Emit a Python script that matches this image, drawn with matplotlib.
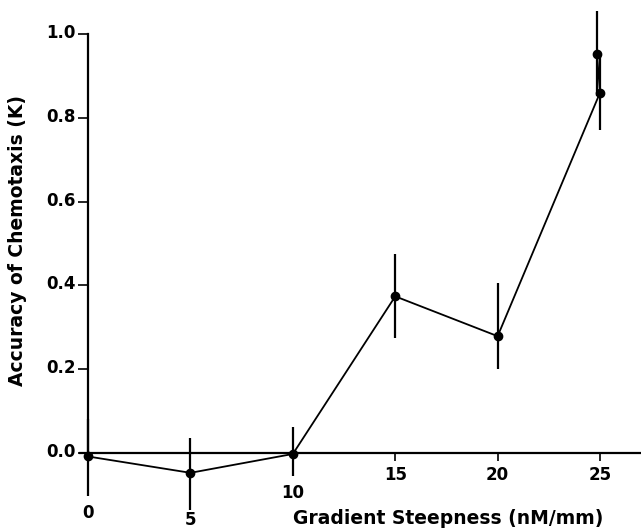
import matplotlib.pyplot as plt
import matplotlib.transforms as mtransforms

# gradient steepness (nM/mm) and accuracy of chemotaxis K
steepness = [0, 5, 10, 15, 20, 25, 24.85]
accuracy = [-0.008, -0.047, -0.002, 0.374, 0.279, 0.860, 0.952]
err_low = [0.094, 0.088, 0.053, 0.10, 0.079, 0.089, 0.10]
err_high = [0.09, 0.083, 0.064, 0.10, 0.126, 0.09, 0.103]

x_ticks = [0, 5, 10, 15, 20, 25]
x_tick_labels = ['0', '5', '10', '15', '20', '25']
y_ticks = [0.0, 0.2, 0.4, 0.6, 0.8, 1.0]
y_tick_labels = ['0.0', '0.2', '0.4', '0.6', '0.8', '1.0']

fig = plt.figure(figsize=(6.41, 5.29), dpi=100)
ax = fig.add_axes([0, 0, 1, 1])
ax.patch.set_alpha(0)

ax.plot(steepness, accuracy, color='black', lw=1.3, zorder=3)
ax.errorbar(steepness, accuracy, yerr=[err_low, err_high], fmt='o',
            color='black', ms=6, elinewidth=1.6, capsize=0, zorder=4)

ax.set_xlim(-4.3, 27.0)
ax.set_ylim(-0.181, 1.081)

for side in ['top', 'right']:
    ax.spines[side].set_visible(False)
ax.spines['left'].set_position(('data', 0))
ax.spines['bottom'].set_position(('data', 0))
ax.spines['left'].set_bounds(0, 1.0)
ax.spines['bottom'].set_bounds(-0.4, 27)
ax.spines['left'].set_linewidth(1.6)
ax.spines['bottom'].set_linewidth(1.6)

ax.set_xticks(x_ticks, x_tick_labels)
ax.set_yticks(y_ticks, y_tick_labels)
ax.tick_params(axis='x', direction='out', length=6, width=1.2, pad=3,
               labelsize=12)
ax.tick_params(axis='y', direction='out', length=7, width=1.2, pad=2,
               labelsize=12)
for lab in ax.get_xticklabels() + ax.get_yticklabels():
    lab.set_fontweight('bold')

# first tick labels sit lower, clear of the error bars
drops = {'0': 38, '5': 45, '10': 18}
for lab in ax.get_xticklabels():
    d = drops.get(lab.get_text(), 0)
    if d:
        off = mtransforms.ScaledTranslation(0, -d / 100, fig.dpi_scale_trans)
        lab.set_transform(lab.get_transform() + off)
for lab in ax.get_yticklabels():
    off = mtransforms.ScaledTranslation(0, 3 / 100, fig.dpi_scale_trans)
    lab.set_transform(lab.get_transform() + off)

ax.set_xlabel('Gradient Steepness (nM/mm)', fontsize=13.5, fontweight='bold',
              va='center')
ax.xaxis.set_label_coords(448 / 641, 1 - 518 / 529)
ax.set_ylabel('Accuracy of Chemotaxis (K)', fontsize=13.5, fontweight='bold',
              va='center')
ax.yaxis.set_label_coords(18 / 641, 1 - 240 / 529)

fig.savefig('out.png', dpi=100)
